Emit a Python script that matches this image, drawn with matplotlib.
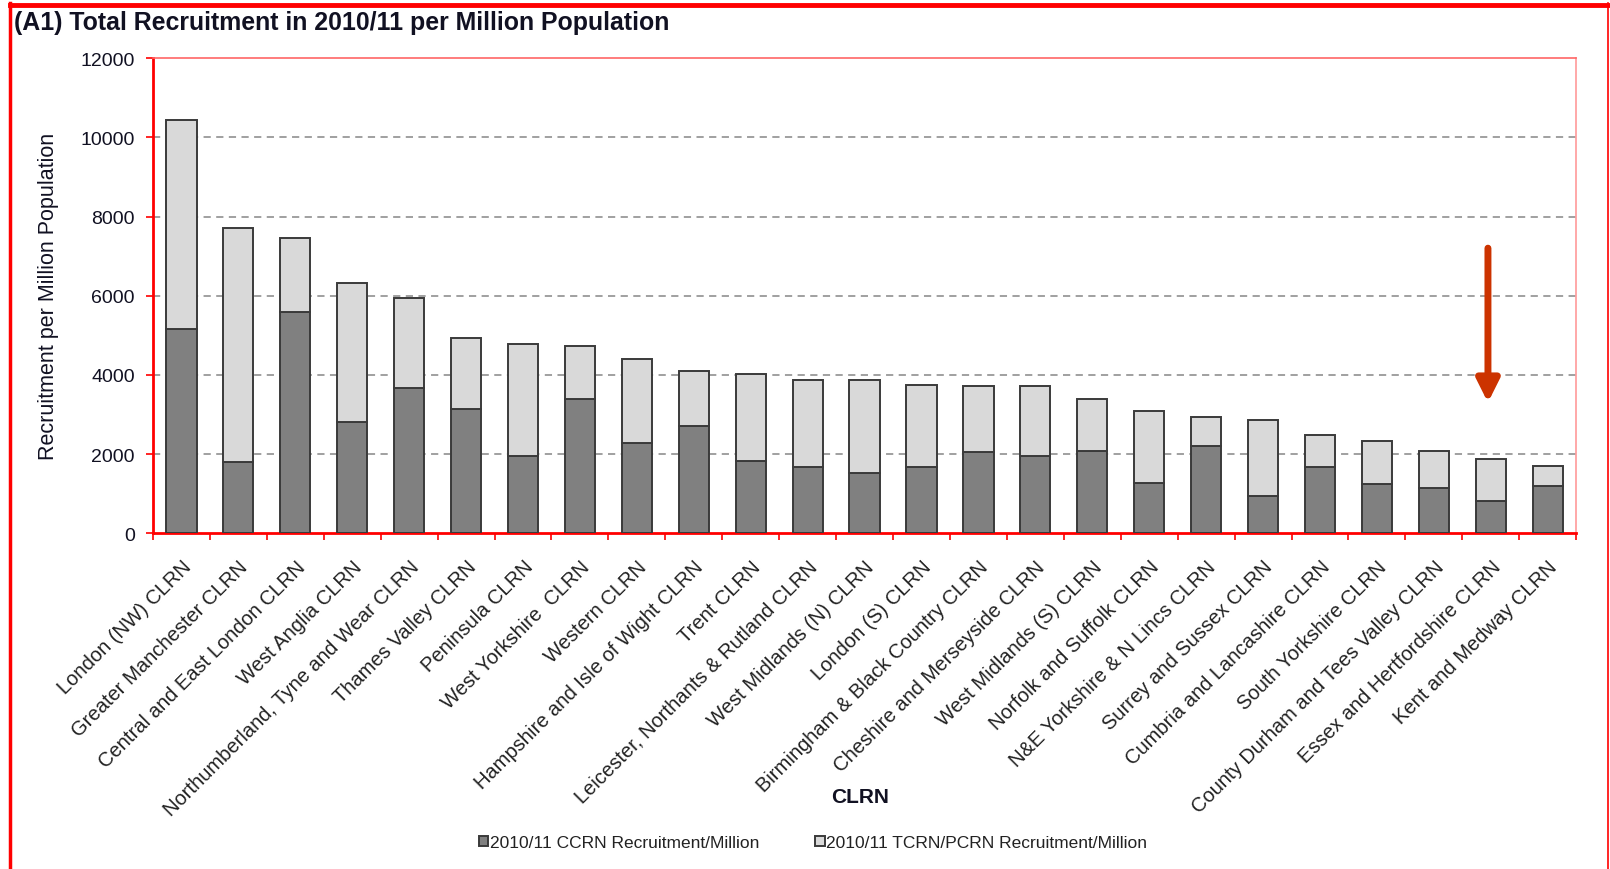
import numpy as np
import matplotlib
matplotlib.use("Agg")
import matplotlib.pyplot as plt
from matplotlib.lines import Line2D

plt.rcParams["font.family"] = ["Liberation Sans", "DejaVu Sans"]

clrn = [
    "London (NW) CLRN", "Greater Manchester CLRN", "Central and East London CLRN",
    "West Anglia CLRN", "Northumberland, Tyne and Wear CLRN", "Thames Valley CLRN",
    "Peninsula CLRN", "West Yorkshire  CLRN", "Western CLRN",
    "Hampshire and Isle of Wight CLRN", "Trent CLRN", "Leicester, Northants & Rutland CLRN",
    "West Midlands (N) CLRN", "London (S) CLRN", "Birmingham & Black Country CLRN",
    "Cheshire and Merseyside CLRN", "West Midlands (S) CLRN", "Norfolk and Suffolk CLRN",
    "N&E Yorkshire & N Lincs CLRN", "Surrey and Sussex CLRN", "Cumbria and Lancashire CLRN",
    "South Yorkshire CLRN", "County Durham and Tees Valley CLRN",
    "Essex and Hertfordshire CLRN", "Kent and Medway CLRN",
]
# CCRN recruitment per million (dark part)
ccrn = [5150, 1790, 5590, 2820, 3660, 3130, 1960, 3400, 2270, 2710, 1820, 1670,
        1510, 1670, 2040, 1950, 2080, 1260, 2200, 950, 1670, 1240, 1130, 820, 1200]
# total (CCRN + TCRN/PCRN)
total = [10450, 7700, 7450, 6310, 5940, 4930, 4790, 4720, 4410, 4090, 4020, 3860,
         3860, 3740, 3720, 3715, 3400, 3080, 2940, 2870, 2470, 2340, 2070, 1880, 1700]
tcrn = [t - c for t, c in zip(total, ccrn)]
y_ticks = [0, 2000, 4000, 6000, 8000, 10000, 12000]

RED = "#ff0000"
TXT = "#111122"

fig = plt.figure(figsize=(16.1, 8.7), dpi=100)
ax = fig.add_axes([0.095, 0.386, 0.884, 0.546])

x = np.arange(len(clrn))
w = 0.53
ax.bar(x, ccrn, w, color="#808080", edgecolor="#3a3a3a", linewidth=1.4,
       label="2010/11 CCRN Recruitment/Million", zorder=3)
ax.bar(x, tcrn, w, bottom=ccrn, color="#d9d9d9", edgecolor="#3a3a3a", linewidth=1.4,
       label="2010/11 TCRN/PCRN Recruitment/Million", zorder=3)

ax.set_xlim(-0.5, len(clrn) - 0.5)
ax.set_ylim(0, 12000)
ax.set_yticks(y_ticks)
ax.set_yticklabels([str(v) for v in y_ticks], fontsize=14, color=TXT)
for v in y_ticks[1:-1]:
    ax.axhline(v, color="#999999", lw=1.3, ls=(0, (4, 3)), zorder=1)

ax.set_xticks(x)
ax.set_xticklabels(clrn, rotation=45, ha="right", va="top", rotation_mode="anchor",
                   fontsize=14.5, color="#222222")
ax.tick_params(axis="x", length=0, pad=17)
ax.set_xticks(np.arange(-0.5, len(clrn)), minor=True)
ax.tick_params(axis="x", which="minor", length=5, color=RED, width=1.2)
ax.tick_params(axis="y", length=5, color=RED, width=1.2, pad=8)

for side in ("left", "bottom"):
    ax.spines[side].set_color(RED)
    ax.spines[side].set_linewidth(2)
ax.spines["right"].set_color("#ff9999")
ax.spines["right"].set_linewidth(1.2)
ax.spines["top"].set_color("#ff6666")
ax.spines["top"].set_linewidth(1.2)
ax.spines["top"].set_linestyle((0, (4, 1)))

ax.set_ylabel("Recruitment per Million Population", fontsize=15.5, color=TXT)
ax.yaxis.set_label_coords(-0.066, 0.5)
ax.set_xlabel("CLRN", fontsize=15, fontweight="bold", color=TXT, labelpad=0)
ax.xaxis.set_label_coords(0.497, -0.535)

# highlight arrow over Essex and Hertfordshire
ax.annotate("", xy=(22.95, 3300), xytext=(22.95, 7200),
            arrowprops=dict(arrowstyle="-|>", color="#cc3300", lw=5,
                            mutation_scale=34, shrinkA=0, shrinkB=0), zorder=5)

fig.text(0.009, 0.974, "(A1) Total Recruitment in 2010/11 per Million Population",
         fontsize=17.9, fontweight="bold", color=TXT, va="center", ha="left")

fig.legend(loc="center", bbox_to_anchor=(0.505, 0.03), ncol=2, frameon=False,
           fontsize=12.5, handlelength=0.55, handleheight=0.55, handletextpad=0.1,
           columnspacing=3.2, labelcolor="#222222")

# outer red frame
fig.add_artist(Line2D([0.006, 0.006], [0, 0.995], color=RED, lw=2.5, transform=fig.transFigure))
fig.add_artist(Line2D([0.006, 0.999], [0.993, 0.993], color=RED, lw=3.5, transform=fig.transFigure))
fig.add_artist(Line2D([0.9985, 0.9985], [0, 0.995], color=RED, lw=1.2, transform=fig.transFigure))

fig.savefig("out.png", dpi=100, facecolor="white")
